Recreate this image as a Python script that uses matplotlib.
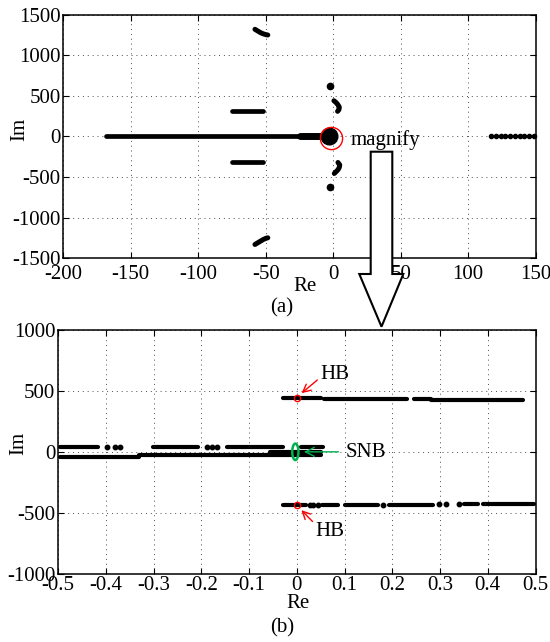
import numpy as np
import matplotlib
matplotlib.use("Agg")
import matplotlib.pyplot as plt
from matplotlib.patches import Ellipse, Polygon

plt.rcParams['font.family'] = ['Liberation Serif', 'DejaVu Serif']
plt.rcParams['font.size'] = 15
plt.rcParams['axes.unicode_minus'] = False

# ---- panel (a) data ----
a_xticks = [-200, -150, -100, -50, 0, 50, 100, 150]
a_yticks = [-1500, -1000, -500, 0, 500, 1000, 1500]
# long real-axis branch
a_main_re = [-168.4, -5.0]
a_main_im = [0, 0]
a_wedge_re = [-25.0, -8.0]
a_wedge_im = [0, 0]
a_blob_re = [-3.5]
a_blob_im = [0]
# horizontal branches at +/-310
a_hbar_re = [-75.0, -52.0]
a_hbar_im = [310, -310]
# arcs near +/-1300
a_arc_up_re = [-58.0, -56.0, -54.0, -52.0, -50.0, -48.5]
a_arc_up_im = [1320, 1300, 1280, 1265, 1255, 1250]
a_arc_dn_re = [-58.0, -56.0, -54.0, -52.0, -50.0, -48.5]
a_arc_dn_im = [-1330, -1310, -1290, -1270, -1255, -1248]
# arcs near 0 at +/-300..450
a_arc2_up_re = [0.5, 2.0, 3.5, 4.5, 4.2, 3.2]
a_arc2_up_im = [440, 420, 390, 360, 330, 310]
a_arc2_dn_re = [3.5, 4.8, 4.5, 3.5, 2.0, 0.8]
a_arc2_dn_im = [-320, -350, -380, -410, -435, -455]
# isolated points
a_iso_re = [-2.4, -2.4]
a_iso_im = [619, -624]
# unstable real eigenvalues
a_right_re = [117, 120.5, 124, 127.5, 131, 134.5, 138, 141.5, 145, 148.5]
a_right_im = [0, 0, 0, 0, 0, 0, 0, 0, 0, 0]

# ---- panel (b) data ----
b_xticks = [-0.5, -0.4, -0.3, -0.2, -0.1, 0, 0.1, 0.2, 0.3, 0.4, 0.5]
b_xlabels = ['-0.5', '-0.4', '-0.3', '-0.2', '-0.1', '0', '0.1', '0.2', '0.3', '0.4', '0.5']
b_yticks = [-1000, -500, 0, 500, 1000]
# upper row (HB branch +)
b_up_start = [-0.029, 0.056, 0.246, 0.281]
b_up_end = [0.051, 0.231, 0.281, 0.474]
b_up_im = [440, 433, 433, 425]
# lower row (HB branch -)
b_lo_start = [-0.029, 0.053, 0.102, 0.194, 0.351, 0.389]
b_lo_end = [0.020, 0.086, 0.170, 0.285, 0.379, 0.497]
b_lo_im = [-440, -437, -435, -435, -430, -428]
b_lo_dot_re = [0.027, 0.035, 0.044, 0.181, 0.297, 0.313, 0.339]
b_lo_dot_im = [-440, -440, -440, -435, -432, -432, -430]
# rows near zero
b_mu_start = [-0.496, -0.301, -0.147, 0.009]
b_mu_end = [-0.416, -0.206, -0.028, 0.054]
b_mu_im = [42, 42, 42, 42]
b_mu_dot_re = [-0.397, -0.381, -0.370, -0.188, -0.178, -0.167]
b_mu_dot_im = [42, 42, 42, 42, 42, 42]
b_ml_start = [-0.496, -0.330, -0.057]
b_ml_end = [-0.330, 0.051, 0.051]
b_ml_im = [-40, -30, 0]

fig = plt.figure(figsize=(5.5, 6.42), dpi=100)

def style(ax):
    ax.grid(True, color='0.3', linewidth=0.7, dashes=(1, 4))
    ax.tick_params(direction='in', length=4, top=True, right=True, width=0.8)
    for s in ax.spines.values():
        s.set_linewidth(1.1)
    ax.set_axisbelow(True)

# ---------- (a) ----------
ax1 = fig.add_axes([0.1151, 0.5977, 0.8589, 0.3794])
k = 'k'
ax1.plot(a_main_re, a_main_im, color=k, lw=3.4, solid_capstyle='round')
ax1.plot(a_wedge_re, a_wedge_im, color=k, lw=5, solid_capstyle='round')
ax1.plot(a_blob_re, a_blob_im, 'o', color=k, ms=12)
for im in a_hbar_im:
    ax1.plot(a_hbar_re, [im, im], color=k, lw=3.4, solid_capstyle='round')
ax1.plot(a_arc_up_re, a_arc_up_im, color=k, lw=3.6, solid_capstyle='round')
ax1.plot(a_arc_dn_re, a_arc_dn_im, color=k, lw=3.6, solid_capstyle='round')
ax1.plot(a_arc2_up_re, a_arc2_up_im, color=k, lw=3.6, solid_capstyle='round')
ax1.plot(a_arc2_dn_re, a_arc2_dn_im, color=k, lw=3.6, solid_capstyle='round')
ax1.plot(a_iso_re, a_iso_im, 'o', color=k, ms=4.5)
ax1.plot(a_right_re, a_right_im, 'o', color=k, ms=3, clip_on=False)
ax1.plot([-1.5], [-17], 'o', mfc='none', mec='red', ms=16, mew=1)
ax1.text(12.6, -46, 'magnify', ha='left', va='center', fontsize=15)
ax1.set_xlim(-200, 150)
ax1.set_ylim(-1500, 1500)
ax1.set_xticks(a_xticks)
ax1.set_yticks(a_yticks)
style(ax1)
ax1.tick_params(axis='x', pad=5)
ax1.tick_params(axis='y', pad=2)
ax1.set_xlabel('Re')
ax1.set_ylabel('Im')
ax1.xaxis.set_label_coords(0.512, -0.117)
ax1.yaxis.set_label_coords(-0.092, 0.527)
ax1.xaxis.label.set_va('center')
ax1.yaxis.label.set_va('center')

# ---------- (b) ----------
ax2 = fig.add_axes([0.1055, 0.1064, 0.8682, 0.3796])
for x0, x1, im in zip(b_up_start, b_up_end, b_up_im):
    ax2.plot([x0, x1], [im, im], color=k, lw=3, solid_capstyle='round')
for x0, x1, im in zip(b_lo_start, b_lo_end, b_lo_im):
    ax2.plot([x0, x1], [im, im], color=k, lw=3, solid_capstyle='round')
for x0, x1, im in zip(b_mu_start, b_mu_end, b_mu_im):
    ax2.plot([x0, x1], [im, im], color=k, lw=3, solid_capstyle='round')
for x0, x1, im in zip(b_ml_start, b_ml_end, b_ml_im):
    ax2.plot([x0, x1], [im, im], color=k, lw=3, solid_capstyle='round')
ax2.plot(b_lo_dot_re, b_lo_dot_im, 'o', color=k, ms=3.2)
ax2.plot(b_mu_dot_re, b_mu_dot_im, 'o', color=k, ms=3.2)

# HB markers
ax2.plot([0, 0], [440, -437], 'o', mfc='none', mec='red', ms=4.5, mew=1)
ax2.annotate('', xy=(0.0056, 467), xytext=(0.0475, 604),
             arrowprops=dict(arrowstyle='->', color='red', lw=1,
                             mutation_scale=14))
ax2.text(0.049, 631, 'HB', ha='left', va='center', fontsize=15)
ax2.annotate('', xy=(0.0056, -462), xytext=(0.037, -588),
             arrowprops=dict(arrowstyle='->', color='red', lw=1,
                             mutation_scale=14))
ax2.text(0.039, -657, 'HB', ha='left', va='center', fontsize=15)

# SNB marker
green = '#00b050'
ax2.add_patch(Ellipse((-0.003, 0), 0.013, 135, fill=False, ec=green, lw=1.8,
                      zorder=5))
ax2.annotate('', xy=(0.009, 0), xytext=(0.093, 0),
             arrowprops=dict(arrowstyle='->', color=green, lw=1,
                             mutation_scale=16))
ax2.text(0.103, -5, 'SNB', ha='left', va='center', fontsize=15)

ax2.set_xlim(-0.5, 0.5)
ax2.set_ylim(-1000, 1000)
ax2.set_xticks(b_xticks)
ax2.set_xticklabels(b_xlabels)
ax2.set_yticks(b_yticks)
style(ax2)
ax2.tick_params(axis='x', pad=1.5)
ax2.tick_params(axis='y', pad=2)
ax2.set_xlabel('Re')
ax2.set_ylabel('Im')
ax2.xaxis.set_label_coords(0.503, -0.121)
ax2.yaxis.set_label_coords(-0.083, 0.536)
ax2.xaxis.label.set_va('center')
ax2.yaxis.label.set_va('center')

# panel captions
fig.text(0.513, 0.520, '(a)', ha='center', va='center', fontsize=15)
fig.text(0.513, 0.022, '(b)', ha='center', va='center', fontsize=15)

# big hollow "magnify" arrow (pixel layout -> figure fraction)
W, H = 550.0, 642.0
pts = [(370.7, 151.7), (392.3, 151.7), (392.3, 274), (403.3, 274),
       (381.5, 326.7), (359.3, 274), (370.7, 274)]
poly = Polygon([(x / W, 1 - y / H) for x, y in pts], closed=True,
               transform=fig.transFigure, fc='white', ec='black', lw=1.5,
               zorder=10)
fig.add_artist(poly)

fig.savefig('out.png', dpi=100)
